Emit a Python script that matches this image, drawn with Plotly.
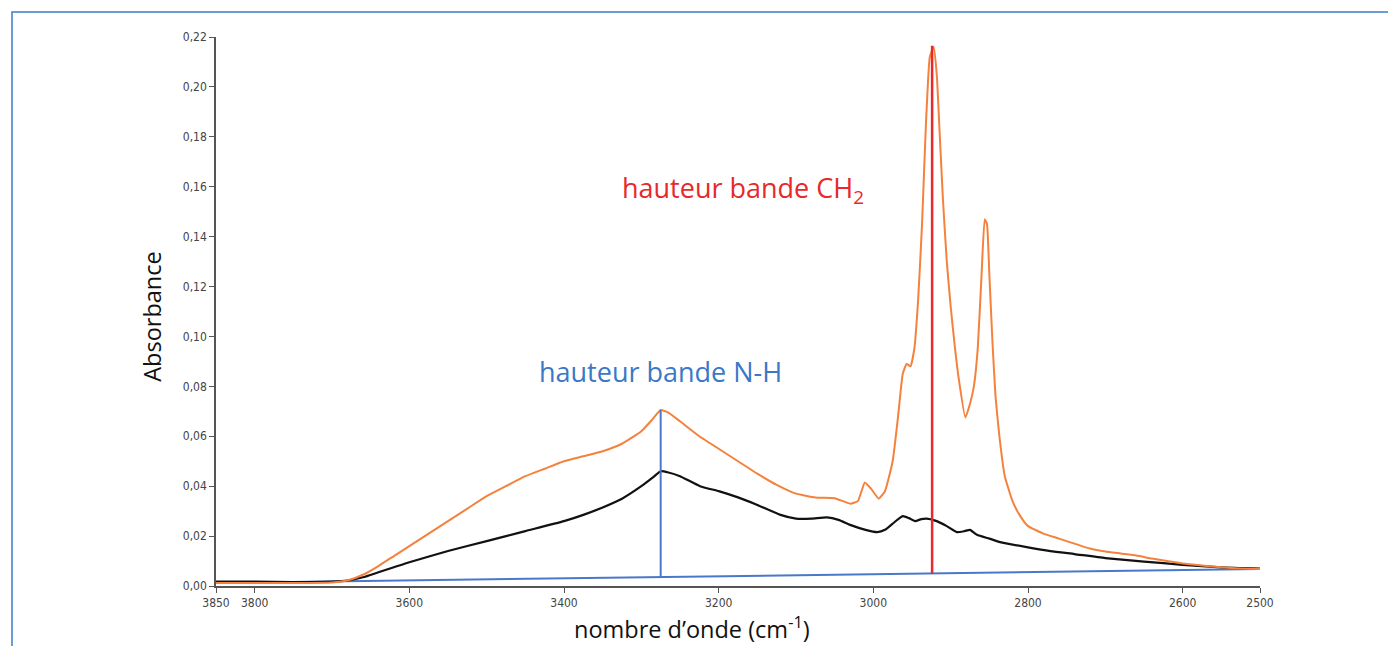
import plotly.graph_objects as go

# ---------------- data ----------------
wn_orange = [3850, 3800, 3750, 3700, 3680, 3660, 3640, 3620, 3600, 3575, 3550, 3525, 3500,
             3475, 3450, 3425, 3400, 3375, 3350, 3325, 3300, 3285, 3275, 3265, 3250, 3225,
             3200, 3175, 3150, 3125, 3100, 3075, 3050, 3030, 3020, 3011, 3003, 2993, 2985,
             2975, 2968, 2962, 2957, 2952, 2947, 2942, 2937, 2932, 2927, 2922, 2918, 2914,
             2910, 2905, 2900, 2895, 2890, 2881, 2875, 2870, 2865, 2860, 2856, 2853, 2850,
             2846, 2842, 2837, 2830, 2820, 2810, 2800, 2780, 2760, 2740, 2720, 2700, 2680,
             2660, 2640, 2620, 2600, 2575, 2550, 2525, 2500]
abs_orange = [0.0012, 0.0012, 0.0012, 0.0014, 0.0022, 0.0045, 0.0080, 0.0120, 0.0160, 0.0210,
              0.0260, 0.0310, 0.0360, 0.0400, 0.0440, 0.0470, 0.0500, 0.0520, 0.0540, 0.0570,
              0.0620, 0.0670, 0.0705, 0.0695, 0.0660, 0.0600, 0.0550, 0.0500, 0.0450, 0.0405,
              0.0370, 0.0355, 0.0352, 0.0330, 0.0340, 0.0415, 0.0390, 0.0350, 0.0380, 0.0500,
              0.0680, 0.0850, 0.0890, 0.0880, 0.0950, 0.1150, 0.1450, 0.1850, 0.2120, 0.2160,
              0.2050, 0.1800, 0.1550, 0.1300, 0.1120, 0.0970, 0.0840, 0.0675, 0.0730, 0.0800,
              0.0950, 0.1250, 0.1470, 0.1450, 0.1250, 0.0980, 0.0760, 0.0600, 0.0440, 0.0340,
              0.0280, 0.0240, 0.0210, 0.0190, 0.0170, 0.0150, 0.0138, 0.0130, 0.0122, 0.0110,
              0.0100, 0.0090, 0.0082, 0.0075, 0.0070, 0.0068]

wn_black = [3850, 3800, 3750, 3700, 3680, 3660, 3640, 3620, 3600, 3550, 3500, 3450, 3400,
            3375, 3350, 3325, 3300, 3285, 3275, 3265, 3250, 3224, 3200, 3175, 3150, 3120,
            3100, 3080, 3060, 3045, 3030, 3010, 2995, 2985, 2975, 2962, 2954, 2946, 2938,
            2931, 2920, 2905, 2892, 2882, 2875, 2866, 2850, 2836, 2800, 2771, 2740, 2700,
            2650, 2600, 2550, 2500]
abs_black = [0.0018, 0.0018, 0.0016, 0.0018, 0.0022, 0.0035, 0.0055, 0.0075, 0.0095, 0.0140,
             0.0180, 0.0220, 0.0260, 0.0285, 0.0315, 0.0350, 0.0400, 0.0435, 0.0460, 0.0455,
             0.0440, 0.0400, 0.0380, 0.0355, 0.0325, 0.0285, 0.0270, 0.0270, 0.0275, 0.0265,
             0.0245, 0.0225, 0.0216, 0.0225, 0.0250, 0.0280, 0.0272, 0.0260, 0.0268, 0.0270,
             0.0262, 0.0240, 0.0216, 0.0220, 0.0225, 0.0205, 0.0190, 0.0176, 0.0155, 0.0140,
             0.0128, 0.0112, 0.0098, 0.0085, 0.0075, 0.0070]

baseline_wn = [3850, 2500]
baseline_abs = [0.0012, 0.0068]

nh_wn = 3275
nh_base, nh_top = 0.0036, 0.0705
ch2_wn = 2924
ch2_base, ch2_top = 0.0048, 0.2165

x_tickvals = [3850, 3800, 3600, 3400, 3200, 3000, 2800, 2600, 2500]
x_ticktext = ["3850", "3800", "3600", "3400", "3200", "3000", "2800", "2600", "2500"]
y_tickvals = [0.00, 0.02, 0.04, 0.06, 0.08, 0.10, 0.12, 0.14, 0.16, 0.18, 0.20, 0.22]
y_ticktext = ["0,00", "0,02", "0,04", "0,06", "0,08", "0,10", "0,12", "0,14", "0,16",
              "0,18", "0,20", "0,22"]

# ---------------- figure ----------------
ORANGE = "#f4823c"
BLUE = "#4a78c8"
RED = "#e8282a"

fig = go.Figure()
fig.add_trace(go.Scatter(x=baseline_wn, y=baseline_abs, mode="lines",
                         line=dict(color=BLUE, width=2), hoverinfo="skip"))
fig.add_trace(go.Scatter(x=wn_black, y=abs_black, mode="lines",
                         line=dict(color="#111111", width=2.2, shape="spline", smoothing=0.5)))
fig.add_trace(go.Scatter(x=wn_orange, y=abs_orange, mode="lines",
                         line=dict(color=ORANGE, width=2, shape="spline", smoothing=0.4)))
fig.add_trace(go.Scatter(x=[nh_wn, nh_wn], y=[nh_base, nh_top], mode="lines",
                         line=dict(color=BLUE, width=2)))
fig.add_trace(go.Scatter(x=[ch2_wn, ch2_wn], y=[ch2_base, ch2_top], mode="lines",
                         line=dict(color=RED, width=2.5)))

ann_font = "'Open Sans', sans-serif"
fig.add_annotation(x=nh_wn, y=0.0858, xref="x", yref="y", text="hauteur bande N-H",
                   showarrow=False, yanchor="middle",
                   font=dict(family=ann_font, size=27, color="#3a78c8"))
fig.add_annotation(x=3168, y=0.1587, xref="x", yref="y", text="hauteur bande CH<sub>2</sub>",
                   showarrow=False, yanchor="middle",
                   font=dict(family=ann_font, size=27, color=RED))
fig.add_annotation(x=-0.0615, y=0.49, xref="paper", yref="paper", text="Absorbance",
                   textangle=-90, showarrow=False, xanchor="center", yanchor="middle",
                   font=dict(family=ann_font, size=23.5, color="#111111"))
fig.add_annotation(x=0.456, y=-0.0747, xref="paper", yref="paper",
                   text="nombre d’onde (cm<sup>-1</sup>)", showarrow=False,
                   xanchor="center", yanchor="middle",
                   font=dict(family=ann_font, size=23.5, color="#111111"))

# blue frame around everything
fig.add_shape(type="rect", xref="paper", yref="paper",
              x0=-0.1954, x1=1.3, y0=-0.2, y1=1.0455,
              line=dict(color="#3d7cc9", width=1.5), layer="below")

tick_font = dict(family="'DejaVu Sans Condensed', 'Liberation Sans Narrow', sans-serif",
                 size=12, color="#444444")
fig.update_layout(
    width=1388, height=638,
    margin=dict(l=208, r=136, t=29, b=60),
    paper_bgcolor="white", plot_bgcolor="white",
    showlegend=False,
    xaxis=dict(range=[3850, 2500], tickvals=x_tickvals, ticktext=x_ticktext,
               showgrid=False, zeroline=False, showline=True, linecolor="#555555",
               linewidth=1.5, ticks="outside", ticklen=5, tickcolor="#555555",
               tickfont=tick_font),
    yaxis=dict(range=[0, 0.22], tickvals=y_tickvals, ticktext=y_ticktext,
               showgrid=False, zeroline=False, showline=True, linecolor="#555555",
               linewidth=1.5, ticks="outside", ticklen=5, tickcolor="#555555",
               tickfont=tick_font),
)

fig.write_html("out.html")
